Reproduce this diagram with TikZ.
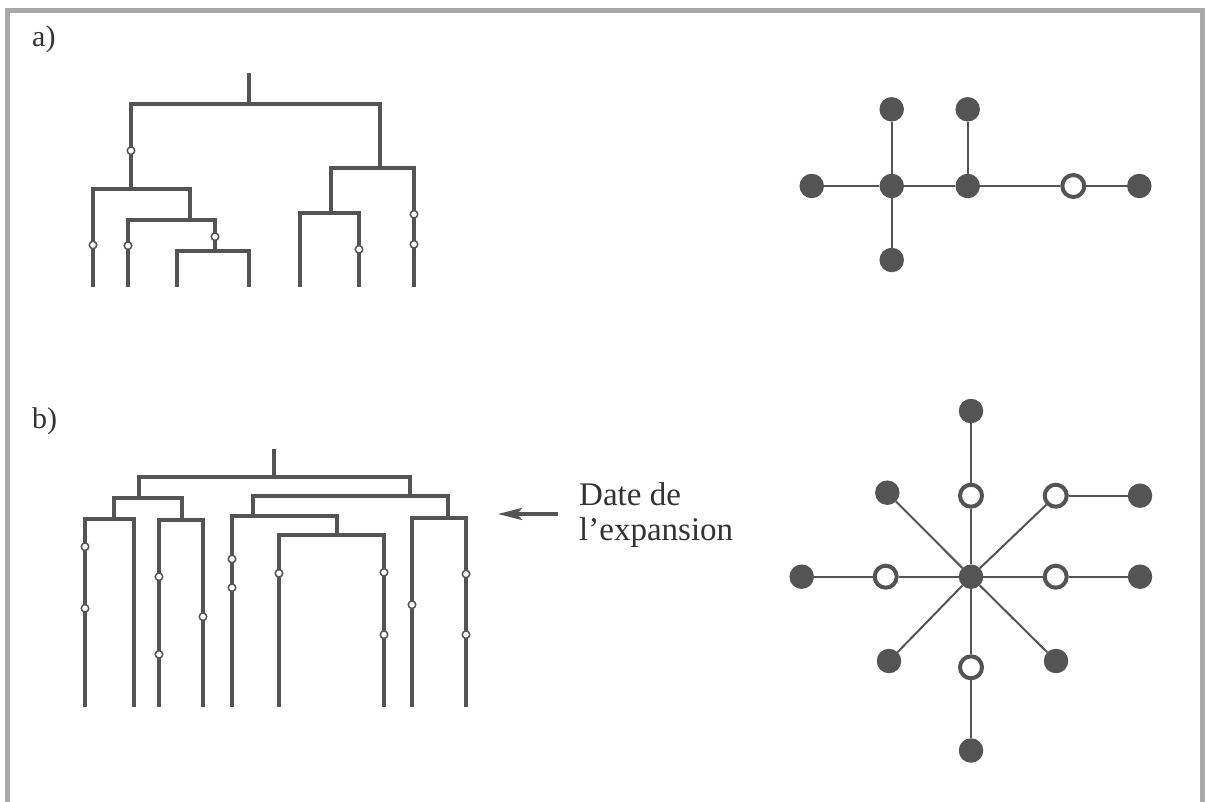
\documentclass[tikz,border=0pt]{standalone}
\usepackage{fontspec}
\setmainfont{Liberation Serif}
\usetikzlibrary{arrows.meta}
\definecolor{ink}{HTML}{545454}
\definecolor{frame}{HTML}{A8A8A8}
\tikzset{
  br/.style={draw=ink,line width=4.8pt,line cap=butt,line join=miter},
  mut/.style={circle,draw=ink,fill=white,line width=1.5pt,inner sep=0pt,minimum size=7.5pt},
  full/.style={circle,fill=ink,inner sep=0pt,minimum size=24.5pt},
  open/.style={circle,draw=ink,fill=white,line width=4pt,inner sep=0pt,minimum size=22pt},
  edge/.style={draw=ink,line width=2pt},
  lab/.style={font=\fontsize{30}{32}\selectfont,anchor=base west,inner sep=0pt,text=black!80},
}
\begin{document}
\begin{tikzpicture}[x=1pt,y=-1pt]
\useasboundingbox (0,0) rectangle (1206,802);
% frame
\draw[frame,line width=5pt] (7.5,802) -- (7.5,10.5) -- (1202.5,10.5) -- (1202.5,802);
% labels
\node[lab] (la) at (32,47) {a)};
\node[lab] (lb) at (32,428) {b)};

% ---------- tree a ----------
\coordinate (aTop) at (249,73);
\coordinate (aR) at (249,104);
\coordinate (aA1) at (131,189);
\coordinate (aA2) at (380,168);
\coordinate (aB) at (190,220);
\coordinate (aC) at (215,251);
\coordinate (aD) at (331,213);
\coordinate (aL1) at (93,287);
\coordinate (aL2) at (128,287);
\coordinate (aL3) at (177,287);
\coordinate (aL4) at (249,287);
\coordinate (aL5) at (300,287);
\coordinate (aL6) at (359,287);
\coordinate (aL7) at (414,287);
\draw[br] (aTop) -- (aR);
\draw[br] (aA1) |- (aR) -| (aA2);
\draw[br] (aL1) |- (aA1) -| (aB);
\draw[br] (aL2) |- (aB) -| (aC);
\draw[br] (aL3) |- (aC) -| (aL4);
\draw[br] (aD) |- (aA2) -| (aL7);
\draw[br] (aL5) |- (aD) -| (aL6);
\foreach \p [count=\i] in {(131,150.7),(93,245),(128,245.7),(215,236.7),(359,249.3),(414,214.3),(414,244.3)}
  \node[mut] (am\i) at \p {};

% ---------- network a ----------
\node[full] (nL) at (811.7,186) {};
\node[full] (nH1) at (891.7,186) {};
\node[full] (nT1) at (891.7,109.3) {};
\node[full] (nB1) at (891.7,260) {};
\node[full] (nH2) at (967.7,186) {};
\node[full] (nT2) at (967.7,109.3) {};
\node[open] (nO) at (1073.3,186) {};
\node[full] (nR) at (1139.3,186) {};
\draw[edge] (nL) -- (nH1);
\draw[edge] (nH1) -- (nH2);
\draw[edge] (nH2) -- (nO);
\draw[edge] (nO) -- (nR);
\draw[edge] (nT1) -- (nH1);
\draw[edge] (nH1) -- (nB1);
\draw[edge] (nT2) -- (nH2);

% ---------- tree b ----------
\coordinate (bTop) at (274,449);
\coordinate (bR) at (274,477);
\coordinate (bP1) at (139,498);
\coordinate (bP2) at (410,496);
\coordinate (bQ1) at (114,519);
\coordinate (bQ2) at (182,520);
\coordinate (bS1) at (253,516);
\coordinate (bS2) at (448,518);
\coordinate (bT) at (337,535);
\foreach \n/\x in {1/85,2/134,3/159,4/203,5/232,6/279,7/384,8/412,9/466}
  \coordinate (bL\n) at (\x,707);
\draw[br] (bTop) -- (bR);
\draw[br] (bP1) |- (bR) -| (bP2);
\draw[br] (bQ1) |- (bP1) -| (bQ2);
\draw[br] (bL1) |- (bQ1) -| (bL2);
\draw[br] (bL3) |- (bQ2) -| (bL4);
\draw[br] (bS1) |- (bP2) -| (bS2);
\draw[br] (bL5) |- (bS1) -| (bT);
\draw[br] (bL6) |- (bT) -| (bL7);
\draw[br] (bL8) |- (bS2) -| (bL9);
\foreach \p [count=\i] in {(85,546.7),(85,608.3),(159,576.7),(159,654.3),(203,616.7),(232,559),(232,587.7),(279,573.3),(384,572.3),(384,634.7),(412,604.7),(466,574),(466,634.7)}
  \node[mut] (bm\i) at \p {};

% arrow + text
\node[font=\fontsize{33}{35}\selectfont,align=left,anchor=base west,inner sep=0pt,text=black!80] (txt) at (579,540) {Date de\\l’expansion};
\coordinate (arS) at (558,514);
\coordinate (arE) at (498,514);
\draw[draw=ink,line width=3.5pt,-{Stealth[length=24pt,width=12pt,inset=5pt]}] (arS) -- (arE);

% ---------- network b ----------
\node[full] (c) at (971,576.7) {};
\node[full] (t) at (971,411) {};
\node[open] (ot) at (971,495.7) {};
\node[full] (nw) at (887.3,492.7) {};
\node[open] (one) at (1055.7,495.7) {};
\node[full] (fr) at (1140,495.7) {};
\node[full] (l) at (801.7,576.7) {};
\node[open] (ol) at (885.7,576.7) {};
\node[open] (or) at (1055.7,576.7) {};
\node[full] (r) at (1140,576.7) {};
\node[full] (sw) at (889,661) {};
\node[full] (se) at (1056,661) {};
\node[open] (ob) at (971,667.3) {};
\node[full] (b) at (971,750.5) {};
\draw[edge] (t) -- (ot);
\draw[edge] (ot) -- (c);
\draw[edge] (nw) -- (c);
\draw[edge] (one) -- (c);
\draw[edge] (one) -- (fr);
\draw[edge] (l) -- (ol);
\draw[edge] (ol) -- (c);
\draw[edge] (c) -- (or);
\draw[edge] (or) -- (r);
\draw[edge] (sw) -- (c);
\draw[edge] (se) -- (c);
\draw[edge] (c) -- (ob);
\draw[edge] (ob) -- (b);
\end{tikzpicture}
\end{document}
